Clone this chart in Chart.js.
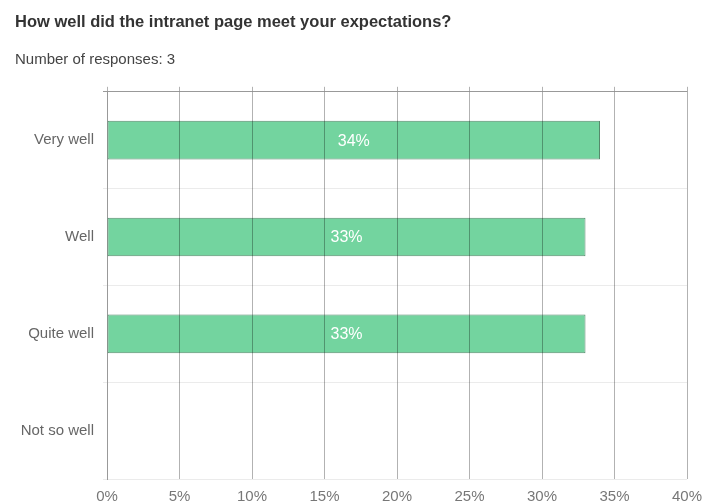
<!DOCTYPE html>
<html>
<head>
<meta charset="utf-8">
<script src="https://cdn.jsdelivr.net/npm/chart.js@4/dist/chart.umd.min.js"></script>
<style>
  html, body { margin: 0; padding: 0; background: #fff; }
  #wrap { width: 702px; height: 503px; }
</style>
</head>
<body>
<div id="wrap"><canvas id="c" width="702" height="503"></canvas></div>
<script>
const titleText = 'How well did the intranet page meet your expectations?';
const subtitleText = 'Number of responses: 3';
const categories = ['Very well', 'Well', 'Quite well', 'Not so well'];
const shares = [34, 33, 33, 0];
const axisMin = 0;
const axisMax = 40;
const axisStep = 5;

const FONT = '"Liberation Sans", Arial, sans-serif';

// Writes each bar's percentage in the middle of the bar
const barValueLabels = {
  id: 'barValueLabels',
  afterDatasetsDraw(chart) {
    const ctx = chart.ctx;
    const meta = chart.getDatasetMeta(0);
    ctx.save();
    ctx.fillStyle = '#ffffff';
    ctx.font = '16px ' + FONT;
    ctx.textAlign = 'center';
    ctx.textBaseline = 'middle';
    meta.data.forEach((bar, i) => {
      const v = chart.data.datasets[0].data[i];
      if (!v) return;
      ctx.fillText(v + '%', (bar.x + bar.base) / 2, bar.y + 1);
    });
    ctx.restore();
  }
};

// Horizontal axes keep a fixed side margin so the last tick label sits at the edge
const fixSidePadding = s => { s.paddingLeft = 0; s.paddingRight = 15; };

new Chart(document.getElementById('c'), {
  type: 'bar',
  data: {
    labels: categories,
    datasets: [{
      data: shares,
      backgroundColor: '#73d49f',
      borderColor: '#55896b',
      borderWidth: 1,
      borderSkipped: false,
      categoryPercentage: 1,
      barPercentage: 0.4
    }]
  },
  options: {
    indexAxis: 'y',
    responsive: false,
    animation: false,
    layout: { padding: { left: 15, right: 0, top: 0, bottom: 0 } },
    plugins: {
      legend: { display: false },
      tooltip: { enabled: false },
      title: {
        display: true,
        text: titleText,
        align: 'start',
        color: '#333333',
        font: { family: FONT, size: 16.5, weight: 'bold', lineHeight: 1.2 },
        padding: { top: 13, bottom: 18 }
      },
      subtitle: {
        display: true,
        text: subtitleText,
        align: 'start',
        color: '#444444',
        font: { family: FONT, size: 15, lineHeight: 1.2 },
        padding: { top: 0, bottom: 18 }
      }
    },
    scales: {
      x: {
        position: 'bottom',
        min: axisMin,
        max: axisMax,
        grid: {
          // the 0% line is covered by the category axis line
          color: c => (c.index === 0 ? 'rgba(0,0,0,0)' : 'rgba(0,0,0,0.3)'),
          drawTicks: false,
          z: 1
        },
        border: { display: false },
        ticks: {
          stepSize: axisStep,
          padding: 10,
          color: '#777777',
          font: { family: FONT, size: 15, lineHeight: 1 },
          callback: v => v + '%'
        },
        afterFit: s => { s.height = 24; fixSidePadding(s); }
      },
      xTop: {
        axis: 'x',
        position: 'top',
        min: axisMin,
        max: axisMax,
        grid: {
          color: 'rgba(0,0,0,0.3)',
          drawOnChartArea: false,
          drawTicks: true,
          tickLength: 5
        },
        border: { display: false },
        ticks: { stepSize: axisStep, display: false },
        afterFit: fixSidePadding
      },
      y: {
        offset: true,
        grid: {
          offset: true,
          color: c => (c.index === 0 ? '#999999' : '#ebebeb'),
          tickLength: 4
        },
        border: { display: true, color: '#999999' },
        ticks: {
          padding: 9,
          color: '#666666',
          font: { family: FONT, size: 15 }
        },
        afterFit: s => { s.width = 92; }
      }
    }
  },
  plugins: [barValueLabels]
});
</script>
</body>
</html>
